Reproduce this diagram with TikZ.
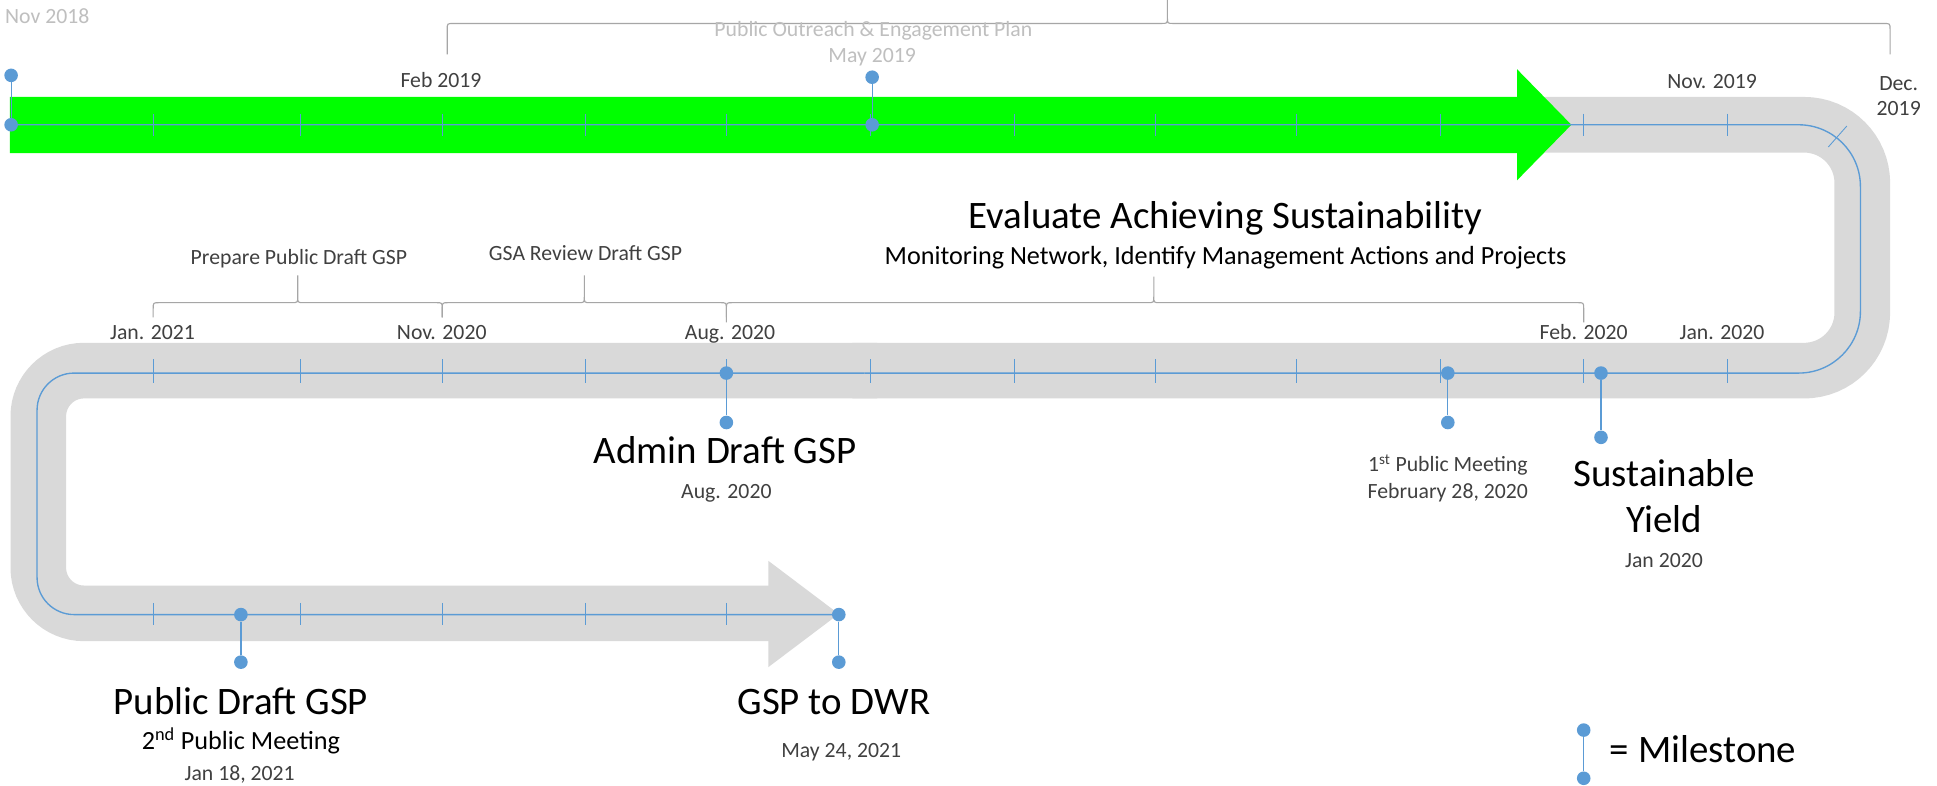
\documentclass[tikz,border=0pt]{standalone}
\usepackage{fontspec}
\setmainfont{Carlito}
\definecolor{bandgray}{HTML}{D9D9D9}
\definecolor{tlblue}{HTML}{5B9BD5}
\definecolor{brcgray}{HTML}{A6A6A6}
\definecolor{txtgray}{HTML}{404040}
\definecolor{lightgray}{HTML}{BFBFBF}
\definecolor{brightgreen}{HTML}{00FF00}
\newcommand{\tlbrace}[6]{%
  \draw[brc] (#1,#5) -- (#1,#4+5) .. controls (#1,#4) .. (#1+5,#4) -- (#3-5,#4)
    .. controls (#3,#4) .. (#3,#4-5) -- (#3,#6) -- (#3,#4-5)
    .. controls (#3,#4) .. (#3+5,#4) -- (#2-5,#4) .. controls (#2,#4) .. (#2,#4+5) -- (#2,#5);}
\begin{document}
\begin{tikzpicture}[x=1pt,y=-1pt,
  band/.style={draw=bandgray,line width=45pt,line cap=butt},
  tl/.style={draw=tlblue,line width=1.1pt},
  tick/.style={draw=tlblue,line width=0.7pt},
  brc/.style={draw=brcgray,line width=0.9pt},
  dot/.style={circle,fill=tlblue,inner sep=0pt,minimum size=11pt},
  stem/.style={draw=tlblue,line width=1pt},
  sm/.style={font=\fontsize{17.6}{21}\selectfont,text=txtgray,inner sep=0pt,anchor=base},
  smlight/.style={font=\fontsize{17.6}{21}\selectfont,text=lightgray,inner sep=0pt,anchor=base},
  md/.style={font=\fontsize{21.2}{25}\selectfont,text=black,inner sep=0pt,anchor=base},
  lg/.style={font=\fontsize{31.5}{38}\selectfont,text=black,inner sep=0pt,anchor=base}]
\useasboundingbox (0,0) rectangle (1568,635.5);
\fill[white] (0,0) rectangle (1568,635.5);

% gray track
\draw[band,rounded corners=47pt] (1228,101) -- (1507.5,101) -- (1507.5,300) -- (690,300);
\draw[band,rounded corners=37pt] (710,300) -- (31,300) -- (31,496.5) -- (626,496.5);
\fill[bandgray] (622,454) -- (679,497) -- (622,540) -- cycle;

% green arrow
\fill[brightgreen] (8,78.5) -- (1228,78.5) -- (1228,56) -- (1272,101) -- (1228,146) -- (1228,124) -- (8,124) -- cycle;

% blue timeline
\draw[tl,rounded corners=50pt] (8,101) -- (1506,101) -- (1506,302) -- (700,302);
\draw[tl,rounded corners=30pt] (700,302) -- (30,302) -- (30,497.5) -- (679,497.5);

% ticks
\foreach \x in {124,243,358,474,588,705,821,935,1049.5,1166,1282,1398}
  \draw[tick] (\x,92) -- (\x,110);
\draw[tick] (1480,119) -- (1495,102);
\foreach \x in {124,243,358,474,588,705,821,935,1049.5,1166,1282,1398}
  \draw[tick] (\x,291) -- (\x,310);
\foreach \x in {124,243,358,474,588}
  \draw[tick] (\x,488) -- (\x,506);

% braces
\tlbrace{362}{1530}{945}{19}{44}{-3}
\tlbrace{124}{358}{241}{245}{257}{223}
\tlbrace{358}{588}{473}{245}{257}{223}
\tlbrace{588}{1282}{934}{245}{261}{224}

% milestones
\node[dot] (m1a) at (9,61) {};
\node[dot] (m1b) at (9,101) {};
\draw[stem] (m1a) -- (m1b);
\node[dot] (m2a) at (706,62.5) {};
\node[dot] (m2b) at (706,101) {};
\draw[stem] (m2a) -- (m2b);
\node[dot] (m3a) at (588,302) {};
\node[dot] (m3b) at (588,342) {};
\draw[stem] (m3a) -- (m3b);
\node[dot] (m4a) at (1172,302) {};
\node[dot] (m4b) at (1172,342) {};
\draw[stem] (m4a) -- (m4b);
\node[dot] (m5a) at (1296,302) {};
\node[dot] (m5b) at (1296,354) {};
\draw[stem] (m5a) -- (m5b);
\node[dot] (m6a) at (195,497.5) {};
\node[dot] (m6b) at (195,536) {};
\draw[stem] (m6a) -- (m6b);
\node[dot] (m7a) at (679,497.5) {};
\node[dot] (m7b) at (679,536) {};
\draw[stem] (m7a) -- (m7b);
\node[dot] (lega) at (1282,591) {};
\node[dot] (legb) at (1282,630) {};
\draw[stem] (lega) -- (legb);

% texts
\node[smlight,anchor=base west] (t1) at (4,19) {Nov 2018};
\node[smlight] (t2) at (707,29.7) {Public Outreach \& Engagement Plan};
\node[smlight] (t3) at (706,50.7) {May 2019};
\node[sm] (t4) at (357,70.7) {Feb 2019};
\node[sm] (t5) at (1386,71.8) {Nov. 2019};
\node[sm] (t6) at (1537,72.9) {Dec.};
\node[sm] (t7) at (1537,93.6) {2019};
\node[lg] (t8) at (992,185) {Evaluate Achieving Sustainability};
\node[md] (t9) at (992,214) {Monitoring Network, Identify Management Actions and Projects};
\node[sm] (t10) at (242,214.5) {Prepare Public Draft GSP};
\node[sm] (t11) at (474,210.5) {GSA Review Draft GSP};
\node[sm] (t12) at (123.5,275) {Jan. 2021};
\node[sm] (t13) at (357.6,275) {Nov. 2020};
\node[sm] (t14) at (591,275) {Aug. 2020};
\node[sm] (t15) at (1282,275) {Feb. 2020};
\node[sm] (t16) at (1394,274.5) {Jan. 2020};
\node[lg] (t17) at (587,375) {Admin Draft GSP};
\node[sm] (t18) at (588,403.5) {Aug. 2020};
\node[sm] (t19) at (1172,382) {1\textsuperscript{st} Public Meeting};
\node[sm] (t20) at (1172,403.5) {February 28, 2020};
\node[lg] (t21) at (1347,393.5) {Sustainable};
\node[lg] (t22) at (1347,431) {Yield};
\node[sm] (t23) at (1347,459) {Jan 2020};
\node[lg] (t24) at (195,578.5) {Public Draft GSP};
\node[md] (t25) at (195,607) {2\textsuperscript{nd} Public Meeting};
\node[sm] (t26) at (194,631.5) {Jan 18, 2021};
\node[lg] (t27) at (675,578.5) {GSP to DWR};
\node[sm] (t28) at (681,613) {May 24, 2021};
\node[lg,anchor=base west] (t29) at (1303,617.5) {= Milestone};
\end{tikzpicture}
\end{document}
